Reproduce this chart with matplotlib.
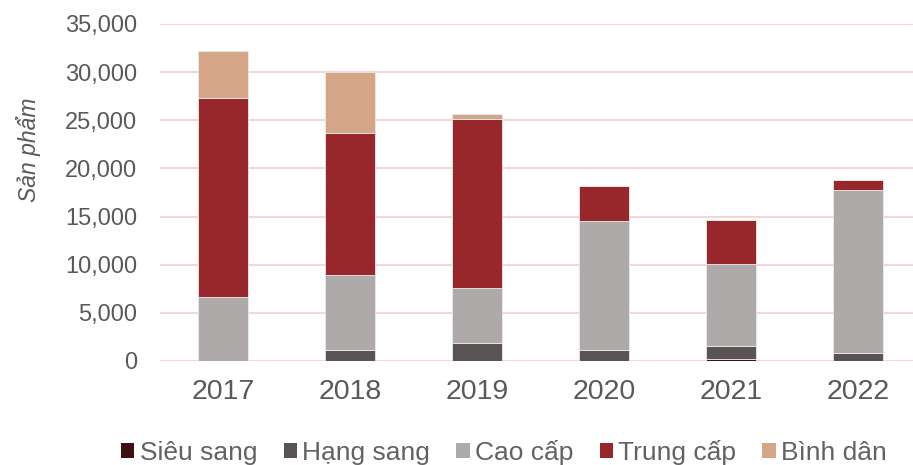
import numpy as np
import matplotlib
matplotlib.use('Agg')
import matplotlib.pyplot as plt
from matplotlib.patches import Patch

# 数据
years = ['2017', '2018', '2019', '2020', '2021', '2022']
sieu_sang = [0, 0, 0, 0, 200, 0]
hang_sang = [0, 1180, 1830, 1140, 1360, 870]
cao_cap = [6680, 7750, 5750, 13430, 8480, 16890]
trung_cap = [20670, 14770, 17550, 3570, 4600, 1040]
binh_dan = [4850, 6350, 470, 0, 0, 0]

series = [
    ('Siêu sang', sieu_sang, '#3d1014'),
    ('Hạng sang', hang_sang, '#595453'),
    ('Cao cấp', cao_cap, '#aeaaa9'),
    ('Trung cấp', trung_cap, '#98272c'),
    ('Bình dân', binh_dan, '#d4a587'),
]

plt.rcParams['font.family'] = ['Liberation Sans', 'DejaVu Sans']
text_color = '#595959'
grid_color = '#f4d6da'

fig = plt.figure(figsize=(9.13, 4.65), dpi=100)
ax = fig.add_axes([0.1747, 0.2237, 1.0 - 0.1747, 0.9484 - 0.2237])

x = np.arange(len(years))
bottom = np.zeros(len(years))
for name, vals, color in series:
    vals = np.array(vals, dtype=float)
    ax.bar(x, vals, width=0.4, bottom=bottom, color=color,
           edgecolor='#ebe9e9', linewidth=0.6, zorder=3)
    bottom += vals

ax.set_ylim(0, 35000)
ax.set_xlim(-0.5, 5.433)
ax.set_yticks(range(0, 35001, 5000))
ax.set_yticklabels([f'{v:,}' for v in range(0, 35001, 5000)])
ax.set_xticks(x)
ax.set_xticklabels(years)

ax.grid(axis='y', color=grid_color, linewidth=1.5, zorder=0)
for s in ax.spines.values():
    s.set_visible(False)

ax.tick_params(axis='y', length=0, pad=16, labelsize=17, labelcolor=text_color)
ax.tick_params(axis='x', length=0, pad=13, labelsize=20.5, labelcolor=text_color)

ax.set_ylabel('Sản phẩm', fontsize=16.5, style='italic', color=text_color)
ax.yaxis.set_label_coords(-0.157, 0.626)

handles = [Patch(facecolor=c, edgecolor='none', label=n) for n, _, c in series]
fig.legend(handles=handles, loc='center', bbox_to_anchor=(0.552, 0.027),
           ncol=5, frameon=False, fontsize=19, labelcolor='#626262',
           handlelength=0.5, handleheight=0.5, handletextpad=0.2,
           columnspacing=1.0, borderaxespad=0, borderpad=0)

fig.savefig('out.png', dpi=100)
